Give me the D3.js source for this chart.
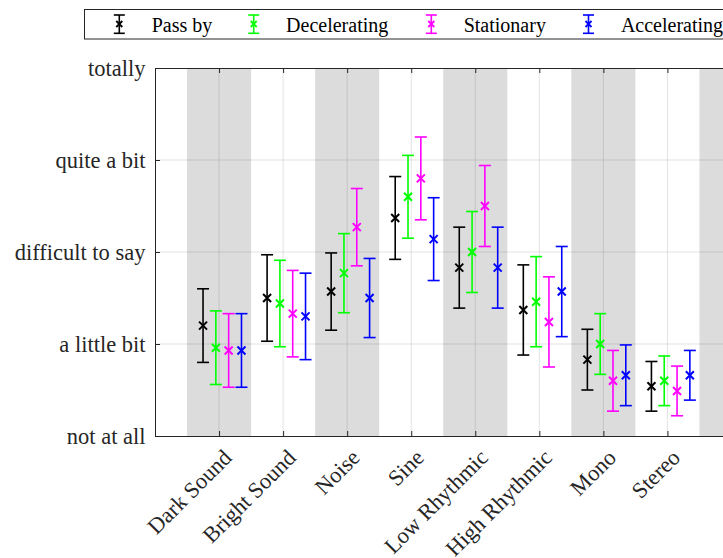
<!DOCTYPE html>
<html>
<head>
<meta charset="utf-8">
<script src="https://cdn.jsdelivr.net/npm/d3@7"></script>
<style>
  html, body { margin: 0; padding: 0; background: #fff; overflow: hidden; }
  svg { display: block; }
  text { font-family: "Liberation Serif", "Times New Roman", serif; fill: #262626; }
</style>
</head>
<body>
<svg id="chart" width="723" height="558"></svg>
<script>
// Sound categories along the x axis
const categories = ["Dark Sound", "Bright Sound", "Noise", "Sine", "Low Rhythmic", "High Rhythmic", "Mono", "Stereo"];

// Rating levels on the y axis (0 = not at all ... 4 = totally)
const yTickLabels = ["not at all", "a little bit", "difficult to say", "quite a bit", "totally"];

// Series names and colours
const seriesNames = ["Pass by", "Decelerating", "Stationary", "Accelerating"];
const seriesColors = ["#000000", "#00ff00", "#ff00ff", "#0000ff"];

// Mean ratings per category
const passByMean       = [1.20, 1.50, 1.57, 2.37, 1.83, 1.37, 0.83, 0.54];
const deceleratingMean = [0.96, 1.44, 1.77, 2.60, 2.00, 1.46, 1.00, 0.60];
const stationaryMean   = [0.93, 1.33, 2.27, 2.80, 2.50, 1.24, 0.60, 0.49];
const acceleratingMean = [0.93, 1.30, 1.50, 2.14, 1.83, 1.57, 0.66, 0.66];

// Error bar half-lengths per category
const passByErr       = [0.40, 0.47, 0.42, 0.45, 0.44, 0.49, 0.33, 0.27];
const deceleratingErr = [0.40, 0.47, 0.43, 0.45, 0.44, 0.49, 0.33, 0.27];
const stationaryErr   = [0.40, 0.47, 0.42, 0.45, 0.44, 0.49, 0.33, 0.27];
const acceleratingErr = [0.40, 0.47, 0.43, 0.45, 0.44, 0.49, 0.33, 0.27];

// Horizontal shift of each series inside a category slot
const seriesOffsets = [-0.25, -0.05, 0.15, 0.35];

const means = [passByMean, deceleratingMean, stationaryMean, acceleratingMean];
const errs = [passByErr, deceleratingErr, stationaryErr, acceleratingErr];

const svg = d3.select("#chart");
const axisColor = "#262626";

const plot = { left: 155, right: 731.5, top: 68, bottom: 436 };

const x = d3.scaleLinear().domain([0, 9]).range([plot.left, plot.right]);
const y = d3.scaleLinear().domain([0, 4]).range([plot.bottom, plot.top]);

svg.append("defs").append("clipPath").attr("id", "plotClip")
  .append("rect")
  .attr("x", plot.left).attr("y", plot.top)
  .attr("width", plot.right - plot.left).attr("height", plot.bottom - plot.top);

// Alternating shaded bands (odd slots)
const bandSlots = d3.range(1, 10, 2);
svg.append("g").attr("clip-path", "url(#plotClip)")
  .selectAll("rect").data(bandSlots).join("rect")
  .attr("x", d => x(d - 0.5))
  .attr("y", plot.top)
  .attr("width", x(1) - x(0))
  .attr("height", plot.bottom - plot.top)
  .attr("fill", "#dcdcdc");

// Grid lines
const grid = svg.append("g").attr("clip-path", "url(#plotClip)");
grid.selectAll("line.v").data(d3.range(1, 9)).join("line")
  .attr("class", "v")
  .attr("x1", d => x(d)).attr("x2", d => x(d))
  .attr("y1", plot.top).attr("y2", plot.bottom)
  .attr("stroke", "rgba(38,38,38,0.13)").attr("stroke-width", 1);
grid.selectAll("line.h").data(d3.range(1, 4)).join("line")
  .attr("class", "h")
  .attr("x1", plot.left).attr("x2", plot.right)
  .attr("y1", d => y(d)).attr("y2", d => y(d))
  .attr("stroke", "rgba(38,38,38,0.13)").attr("stroke-width", 1);

// Axes: ticks drawn inward, box on all sides
const leftAxis = d3.axisRight(y).tickValues(d3.range(0, 5)).tickSize(5).tickFormat("");
const bottomAxis = d3.axisTop(x).tickValues(d3.range(1, 9)).tickSize(5).tickFormat("");
const topAxis = d3.axisBottom(x).tickValues(d3.range(1, 9)).tickSize(5).tickFormat("");

function styleAxis(g) {
  g.selectAll("path.domain").attr("stroke", axisColor).attr("stroke-width", 1);
  g.selectAll(".tick line").attr("stroke", axisColor).attr("stroke-width", 1);
}
svg.append("g").attr("transform", `translate(${plot.left},0)`).call(leftAxis).call(styleAxis)
  .select("path.domain").attr("d", `M0.5,${plot.top}V${plot.bottom}`);
svg.append("g").attr("transform", `translate(0,${plot.bottom})`).call(bottomAxis).call(styleAxis)
  .select("path.domain").attr("d", `M${plot.left},0.5H${plot.right}`);
svg.append("g").attr("transform", `translate(0,${plot.top})`).call(topAxis).call(styleAxis)
  .select("path.domain").attr("d", `M${plot.left},0.5H${plot.right}`);

// Y tick labels
svg.append("g").selectAll("text").data(yTickLabels).join("text")
  .attr("x", plot.left - 9.5)
  .attr("y", (d, i) => y(i))
  .attr("dy", "0.36em")
  .attr("text-anchor", "end")
  .attr("font-size", 22.5)
  .text(d => d);

// X tick labels, rotated 45 degrees
svg.append("g").selectAll("text").data(categories).join("text")
  .attr("text-anchor", "end")
  .attr("font-size", 22.5)
  .attr("transform", (d, i) => `translate(${x(i + 1) + 14},${plot.bottom + 23}) rotate(-45)`)
  .text(d => d);

// Error bars with x markers
const capHalf = 6;
const markHalf = 4;
means.forEach((arr, s) => {
  const g = svg.append("g").attr("stroke", seriesColors[s]).attr("fill", "none");
  arr.forEach((m, i) => {
    const cx = x(i + 1 + seriesOffsets[s]);
    const lo = y(m - errs[s][i]);
    const hi = y(m + errs[s][i]);
    const cy = y(m);
    g.append("line").attr("x1", cx).attr("x2", cx).attr("y1", lo).attr("y2", hi).attr("stroke-width", 1.6);
    g.append("line").attr("x1", cx - capHalf).attr("x2", cx + capHalf).attr("y1", lo).attr("y2", lo).attr("stroke-width", 1.6);
    g.append("line").attr("x1", cx - capHalf).attr("x2", cx + capHalf).attr("y1", hi).attr("y2", hi).attr("stroke-width", 1.6);
    g.append("path")
      .attr("d", `M${cx - markHalf},${cy - markHalf}L${cx + markHalf},${cy + markHalf}M${cx - markHalf},${cy + markHalf}L${cx + markHalf},${cy - markHalf}`)
      .attr("stroke-width", 2);
  });
});

// Legend
const legend = svg.append("g");
legend.append("rect")
  .attr("x", 84.5).attr("y", 9.5).attr("width", 700).attr("height", 29.5)
  .attr("fill", "#fff").attr("stroke", axisColor).attr("stroke-width", 1);
const legendMarkX = [119.3, 253.7, 431.3, 588.5];
seriesNames.forEach((name, s) => {
  const mx = legendMarkX[s];
  const g = legend.append("g").attr("stroke", seriesColors[s]).attr("fill", "none");
  g.append("line").attr("x1", mx).attr("x2", mx).attr("y1", 15).attr("y2", 33.3).attr("stroke-width", 1.6);
  g.append("line").attr("x1", mx - 5.5).attr("x2", mx + 5.5).attr("y1", 15).attr("y2", 15).attr("stroke-width", 1.6);
  g.append("line").attr("x1", mx - 5.5).attr("x2", mx + 5.5).attr("y1", 33.3).attr("y2", 33.3).attr("stroke-width", 1.6);
  g.append("path")
    .attr("d", `M${mx - 3},${21}L${mx + 3},${27}M${mx - 3},${27}L${mx + 3},${21}`)
    .attr("stroke-width", 1.8);
  legend.append("text")
    .attr("x", mx + 32.4).attr("y", 32)
    .attr("font-size", 20)
    .style("fill", "#000")
    .text(name);
});
</script>
</body>
</html>
